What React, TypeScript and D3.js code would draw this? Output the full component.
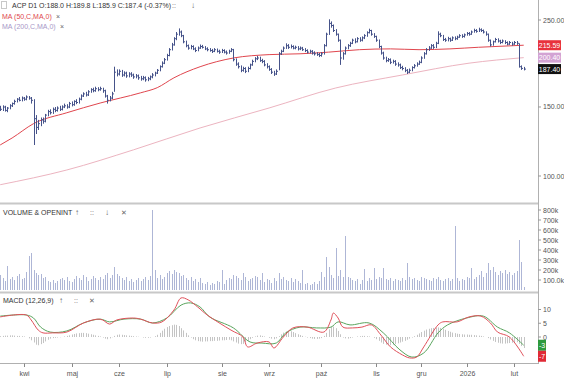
import React from 'react';
import * as d3 from 'd3';

// ---------- DATA ----------
const closes = [
  148,150,147,149,151,153,155,157,156,158,157,159,158,
  156,140,133,136,139,138,
  143,146,145,148,147,149,148,150,151,150,153,152,155,154,157,
  160,162,161,164,166,165,167,166,167,165,160,156,158,
  162,184,
  182,185,181,183,180,182,181,179,180,178,177,178,176,177,179,181,183,
  186,190,194,198,203,210,216,224,230,233,
  228,220,215,212,214,211,209,212,214,213,211,210,209,208,210,208,207,209,207,206,208,210,
  198,193,190,186,188,185,188,192,196,199,200,197,196,192,190,187,184,182,185,
  205,208,212,215,213,214,212,213,211,212,210,209,207,208,206,205,204,203,205,
  215,230,245,242,235,230,222,200,
  205,212,215,218,222,220,224,222,225,228,232,235,230,227,222,214,206,200,197,198,195,196,193,192,189,188,186,
  184,186,189,191,193,195,200,205,210,212,215,213,218,
  230,228,223,222,224,222,225,224,226,228,227,229,231,230,233,235,234,236,235,233,230,
  222,216,220,223,221,219,221,219,217,219,217,219,218,
  190,188.1,187.4,
];
const highs = [
  151,151.5,151,150,152.5,154,156.5,158,159,159.5,159,160.5,160,
  159,157,143,139,141,141,
  144,147.5,148,149.5,150,150.5,151,151.5,153,152.5,154.5,155,156,157,158.5,
  161.5,163.5,164,165.5,167.5,168,169,168.5,169,168,166,161,160,
  164,190,
  187,187,186.5,185,184.5,184,184,182.5,182,181.5,180,180,179.5,179,180.5,183,184.5,
  187.5,191.5,196,200,205,212,218.5,226,233,238,
  235,229,221.5,216.5,216,215.5,213,214,216.5,216,214.5,213,212,211,212,211.5,210,211,210.5,209,210,212,
  211,199.5,195,191.5,190,189.5,190,193.5,198,201,202.5,201.5,199,197.5,194,191.5,188.5,185.5,187,
  207,210,214,218,217,216.5,215.5,215,214.5,214,213.5,212,210.5,210,209.5,208,207,206,207,
  217,232,251,248,243.5,237,231,223,
  207,214,217,220,224,224.5,226,226,227,230,234,237.5,236,231.5,228,223,215,207.5,201.5,200,199.5,198,197.5,195,193.5,191,189.5,
  187.5,188,190.5,193,195,197,202,207,212,214.5,217,217,220,
  234,232,229,225,226.5,225.5,227,227,228,230,230,231,233,233,235,237.5,237,239,238,236.5,234,
  231,223,221.5,225,224.5,222.5,223,222,220.5,221,220,221,221,
  218,191.5,189.8,
];
const lows = [
  146.5,146.5,146,145.5,148,150,152,154,155,155,155.5,156,156.5,
  153,120,128,131,134,136,
  137,142,143.5,144,145.5,146,146.5,147,149,148.5,149,150.5,151,152.5,153,
  156,159,159.5,160,163,163.5,164,164.5,165,163,158.5,153,155,
  157,164,
  179.5,180.5,179,179.5,178,178.5,179,177,177.5,176,175,175.5,174,174.5,175.5,177.5,179.5,
  182,185,189,193,197,202,209,215,222,228,
  226,218,213,210,210.5,209.5,207,208,211,211.5,209.5,208,207.5,206,207,206.5,205,206,205.5,204,205,207,
  196,191,188,184,184.5,183,184,187,191,195,197.5,195.5,194,190.5,188,185.5,182,180,181,
  186,203.5,207,211,211,211.5,210.5,210.5,209,209.5,208.5,207,205.5,205.5,204,203,202.5,201,201.5,
  204,214,229,239,233,228,220,192,
  198,204,210.5,213.5,217,218,219,220,220.5,223.5,226.5,231,228,225,220,212,204,198,195,195.5,193,193.5,191,190,187.5,186,184,
  182,183,185,188,190,192,194,199,204,208.5,211,211,212,
  217,226,221,220,220.5,220,221,222,222.5,225,225,225.5,228,228,229,232,232,233,233,231,228,
  220,214,215,219,219,217,218,217,215.5,216,215,216,216,
  189,186.5,185.9,
];
// volume in thousands
const volumes = [
  150,120,90,240,110,130,100,140,160,110,
  120,180,340,370,200,170,150,160,120,130,
  90,80,100,70,90,110,120,100,130,90,
  80,110,140,120,100,150,130,90,110,140,
  120,100,130,110,150,170,120,150,230,160,
  140,120,100,130,90,110,80,100,120,90,
  110,130,100,140,800,200,120,150,110,130,
  170,190,160,200,180,170,140,150,120,100,
  130,90,110,80,120,70,60,80,50,70,
  60,90,80,200,60,100,120,110,150,140,
  120,100,170,130,90,110,120,140,130,100,
  170,80,110,100,70,120,90,170,110,130,
  100,90,120,80,110,90,70,200,60,70,
  50,60,80,60,90,180,130,330,230,150,
  120,420,140,200,130,540,130,120,100,90,
  110,60,100,210,90,120,100,220,110,130,
  120,220,110,100,120,90,110,100,90,120,
  100,270,130,110,120,100,90,130,120,110,
  100,90,120,110,130,100,90,110,120,90,
  110,640,120,90,110,100,130,120,220,110,
  130,150,190,130,170,270,200,230,180,150,
  190,170,200,160,180,150,170,190,500,280,
  30,
];
const histogram = [
  0.3,0.4,0.5,0.5,0.6,0.6,0.5,0.4,0.4,0.3,0.2,
  0.0,-0.5,
  -1.2,-2.0,-2.8,-3.0,-2.6,-2.2,-1.6,-1.0,
  -0.6,-0.4,-0.3,-0.2,-0.1,0.0,0.2,
  0.4,0.6,0.9,1.1,1.3,1.4,1.5,1.5,1.4,1.2,1.0,0.8,0.6,0.4,0.2,
  -0.2,-0.6,-0.8,-0.5,-0.1,
  0.4,0.8,0.9,0.8,0.7,0.6,0.5,0.4,0.3,0.2,0.1,0.0,-0.2,-0.3,-0.3,
  -0.2,0.0,0.3,0.8,1.5,2.3,3.0,3.6,4.0,4.3,4.5,4.4,4.0,3.2,2.4,1.5,
  0.6,-0.2,-0.8,-1.2,-1.5,-1.6,-1.7,-1.6,-1.6,-1.5,-1.5,-1.4,-1.4,-1.3,-1.2,-1.2,-1.1,-1.0,
  -1.2,-1.6,-2.0,-2.4,-2.6,-2.5,-2.0,-1.4,
  -0.8,-0.3,0.2,0.5,0.6,0.4,0.2,0.0,
  -0.3,-0.6,-0.8,-0.5,
  0.3,1.0,1.6,2.0,2.2,2.1,1.8,1.4,1.0,0.7,0.4,0.1,
  -0.2,-0.4,-0.6,-0.7,-0.7,-0.6,-0.4,
  0.4,1.5,2.8,3.6,3.8,3.2,2.2,1.0,-0.2,
  -0.5,-0.6,-0.4,-0.2,0.0,0.2,0.3,0.4,0.4,0.3,0.2,0.0,-0.3,
  -0.8,-1.4,-2.0,-2.5,-2.8,-3.0,-3.0,-2.8,-2.6,-2.3,-2.0,-1.7,-1.4,-1.0,-0.6,
  -0.2,0.3,0.8,1.3,1.8,2.3,2.7,3.0,3.2,3.3,3.4,
  3.5,3.3,3.0,2.6,2.2,1.9,1.6,1.4,1.2,1.1,1.0,0.9,0.9,0.8,0.8,0.7,0.6,0.5,0.4,0.2,0.0,
  -0.4,-0.9,-1.4,-1.8,-2.1,-2.3,-2.4,-2.4,-2.3,-2.2,-2.1,-2.0,-1.9,-2.5,-3.3,-4.0,
];
// moving averages read at sample bars: [bar index, value]
const ma50Pts: [number, number][] = [
  [0,120],[5,125],[14,136],[28,145],[42,153.5],[59,163],[66,168],[73,178],[84,190],
  [98,200],[113,204],[126,205],[138,207],[151,210],[164,211],[176,210],[189,211],[201,213],[220,215.59],
];
const ma200Pts: [number, number][] = [
  [0,95],[28,103.6],[56,116.6],[84,132.6],[113,149.1],[141,167.7],[169,181],[197,194],[220,200.4],
];
const macdPts: [number, number][] = [
  [0,7.3],[11,8.0],[13,6.2],[16,2.5],[18,1.5],[22,1.5],[28,1.8],[35,5.1],[41,6.5],[43,6.2],
  [46,4.7],[49,6.2],[56,6.9],[59,6.5],[64,5.1],[68,5.5],[73,9.8],[76,14.2],[79,13.5],[83,10.9],
  [87,8.0],[97,2.5],[102,0],[104,-3.6],[108,-2.2],[113,-1.8],[115,-4.0],[119,0],[123,3.3],
  [129,3.6],[136,1.8],[139,6.2],[140,8.7],[142,6.9],[144,3.6],[148,3.3],[152,3.6],[156,4.4],
  [160,0.7],[164,-3.6],[169,-6.5],[172,-7.6],[175,-7.3],[178,-3.6],[184,4.4],[186,5.5],
  [192,5.5],[197,7.3],[202,7.6],[206,5.1],[209,1.8],[214,0],[220,-7],
];
const signalPts: [number, number][] = [
  [0,7.6],[11,8.0],[14,6.9],[17,3.6],[21,1.8],[28,2.2],[35,5.1],[42,6.5],[46,5.5],[52,6.5],
  [59,6.5],[64,5.1],[70,6.9],[76,11.6],[80,12.4],[84,10.9],[88,7.3],[98,3.3],[105,-1.8],
  [110,-2.2],[116,-2.2],[120,1.5],[126,3.6],[133,3.3],[139,3.6],[142,5.5],[147,4.4],[155,5.1],
  [161,1.5],[168,-4.7],[173,-7.3],[178,-5.8],[184,1.5],[188,4.4],[196,6.9],[203,7.6],[209,3.6],
  [214,1.5],[220,-3],
];
const monthIdx = [10,30,50,70,93,113,135,158,177,196,216];
const monthLabels = ['kwi','maj','cze','lip','sie','wrz','paź','lis','gru','2026','lut'];
const priceTicks = [250,150,100];
const volumeTicks = [100,200,300,400,500,600,700,800];
const macdTicks = [10,5,0];

const FONT = '"Liberation Sans", Arial, sans-serif';

export default function App() {
  const x = d3.scaleLinear().domain([0, 226]).range([0.2, 538]);
  const yP = d3.scaleLog().domain([100, 250]).range([176, 20]);
  const yV = d3.scaleLinear().domain([0, 800]).range([290, 210]);
  const yM = d3.scaleLinear().domain([-10, 10]).range([364.5, 309.5]);

  const n = Math.min(closes.length, highs.length, lows.length);
  const px = (i: number) => Math.round(x(i)) + 0.5;

  let barPath = '';
  for (let i = 0; i < n; i++) {
    const xi = px(i);
    barPath += `M${xi},${yP(highs[i]).toFixed(1)}V${yP(lows[i]).toFixed(1)}`;
    barPath += `M${xi},${yP(closes[i]).toFixed(1)}H${xi + 1.5}`;
  }

  const maLine = d3.line<[number, number]>().x(d => x(d[0])).y(d => yP(d[1])).curve(d3.curveMonotoneX);
  const mLine = d3.line<[number, number]>().x(d => x(d[0])).y(d => yM(d[1])).curve(d3.curveCatmullRom);

  const lastMa50 = ma50Pts[ma50Pts.length - 1][1];
  const lastMa200 = ma200Pts[ma200Pts.length - 1][1];
  const lastClose = closes[closes.length - 1];
  const lastMacd = macdPts[macdPts.length - 1][1];
  const lastSig = signalPts[signalPts.length - 1][1];

  const axisX = 538;
  const txt = { fontFamily: FONT, fontSize: 7, fill: '#555' } as const;

  const priceBoxes = [
    { v: lastMa50, c: '#e8323c' },
    { v: lastMa200, c: '#d3a3d3' },
    { v: lastClose, c: '#111111' },
  ];
  const macdBoxes = [
    { v: lastSig, c: '#2e9a3e' },
    { v: lastMacd, c: '#e02a36' },
  ];

  return (
    <svg width={564} height={380} style={{ position: 'absolute', left: 0, top: 0, background: '#fff' }}>
      <defs>
        <clipPath id="cpPrice"><rect x={0} y={0} width={axisX} height={202} /></clipPath>
        <clipPath id="cpMacd"><rect x={0} y={294} width={axisX} height={69} /></clipPath>
      </defs>
      <rect x={0} y={0} width={564} height={380} fill="#fff" />

      {/* panel separators and axis */}
      <line x1={0} x2={axisX} y1={203.5} y2={203.5} stroke="#c8c8c8" strokeWidth={2} />
      <line x1={0} x2={axisX} y1={292.5} y2={292.5} stroke="#c8c8c8" strokeWidth={2} />
      <line x1={0} x2={axisX} y1={363.5} y2={363.5} stroke="#b0b0b0" strokeWidth={1} />
      <line x1={axisX + 0.5} x2={axisX + 0.5} y1={0} y2={364} stroke="#b0b0b0" strokeWidth={1} />

      {/* price panel */}
      <g clipPath="url(#cpPrice)">
        <path d={maLine(ma200Pts) || ''} fill="none" stroke="#ecb4c0" strokeWidth={1} />
        <path d={maLine(ma50Pts) || ''} fill="none" stroke="#e0464e" strokeWidth={1} />
        <path d={barPath} fill="none" stroke="#46538a" strokeWidth={1} />
      </g>

      {/* volume */}
      <g>
        {volumes.map((v, i) => (
          <line key={i} x1={px(i)} x2={px(i)} y1={yV(0)} y2={yV(v)} stroke="#aeb6d6" strokeWidth={1} />
        ))}
      </g>

      {/* MACD */}
      <g clipPath="url(#cpMacd)">
        {histogram.map((h, i) => (
          <line key={i} x1={px(i)} x2={px(i)} y1={yM(0)} y2={yM(h)} stroke="#c4c4c4" strokeWidth={1} />
        ))}
        <path d={mLine(signalPts) || ''} fill="none" stroke="#5aa55e" strokeWidth={1} />
        <path d={mLine(macdPts) || ''} fill="none" stroke="#e0505a" strokeWidth={1} />
      </g>

      {/* right axis: price */}
      {priceTicks.map(t => (
        <g key={t}>
          <line x1={axisX} x2={axisX + 3} y1={yP(t)} y2={yP(t)} stroke="#999" />
          <text x={axisX + 5} y={yP(t) + 2.5} {...txt}>{t.toFixed(2)}</text>
        </g>
      ))}
      {priceBoxes.map((b, k) => (
        <g key={k}>
          <rect x={axisX} y={yP(b.v) - 5} width={23} height={10} fill={b.c} />
          <text x={axisX + 11.5} y={yP(b.v) + 2.5} textAnchor="middle" fontFamily={FONT} fontSize={7} fill="#fff">
            {b.v.toFixed(2)}
          </text>
        </g>
      ))}

      {/* right axis: volume */}
      {volumeTicks.map(t => (
        <g key={t}>
          <line x1={axisX} x2={axisX + 3} y1={yV(t)} y2={yV(t)} stroke="#999" />
          <text x={axisX + 5} y={yV(t) + 2.5} {...txt}>{t === 100 ? '100.0k' : `${t}k`}</text>
        </g>
      ))}

      {/* right axis: macd */}
      {macdTicks.map(t => (
        <g key={t}>
          <line x1={axisX} x2={axisX + 3} y1={yM(t)} y2={yM(t)} stroke="#999" />
          <text x={axisX + 5} y={yM(t) + 2.5} {...txt}>{t}</text>
        </g>
      ))}
      {macdBoxes.map((b, k) => (
        <g key={k}>
          <rect x={axisX} y={yM(b.v) - 5.5} width={8} height={11} fill={b.c} />
          <text x={axisX + 4} y={yM(b.v) + 2.5} textAnchor="middle" fontFamily={FONT} fontSize={7} fill="#fff">
            {Math.round(b.v)}
          </text>
        </g>
      ))}

      {/* x axis */}
      {monthIdx.map((m, k) => (
        <g key={k}>
          <line x1={px(m)} x2={px(m)} y1={363.5} y2={367} stroke="#888" />
          <text x={px(m)} y={376} textAnchor="middle" {...txt}>{monthLabels[k]}</text>
        </g>
      ))}

      {/* header & legends */}
      <rect x={1.5} y={1.5} width={5} height={7} fill="none" stroke="#c8c8c8" />
      <text x={12} y={8} fontFamily={FONT} fontSize={7} fill="#333">
        ACP D1 O:188.0 H:189.8 L:185.9 C:187.4 (-0.37%)
      </text>
      <text x={172} y={8} fontFamily={FONT} fontSize={7} fill="#666">::</text>
      <text x={191} y={8} fontFamily={FONT} fontSize={8} fill="#666">↓</text>
      <text x={2} y={18.5} fontFamily={FONT} fontSize={7} fill="#e0464e">MA (50,C,MA,0)</text>
      <text x={56} y={18.5} fontFamily={FONT} fontSize={7} fill="#666">×</text>
      <text x={2} y={29} fontFamily={FONT} fontSize={7} fill="#a898c8">MA (200,C,MA,0)</text>
      <text x={60} y={29} fontFamily={FONT} fontSize={7} fill="#666">×</text>

      <text x={3} y={214.5} fontFamily={FONT} fontSize={7} fill="#333">VOLUME &amp; OPENINT</text>
      <text x={75} y={214.5} fontFamily={FONT} fontSize={8} fill="#666">↑</text>
      <text x={90} y={214.5} fontFamily={FONT} fontSize={7} fill="#666">::</text>
      <text x={105} y={214.5} fontFamily={FONT} fontSize={8} fill="#666">↓</text>
      <text x={121} y={214.5} fontFamily={FONT} fontSize={7} fill="#666">✕</text>

      <text x={3} y={302.5} fontFamily={FONT} fontSize={7} fill="#333">MACD (12,26,9)</text>
      <text x={59} y={302.5} fontFamily={FONT} fontSize={8} fill="#666">↑</text>
      <text x={74} y={302.5} fontFamily={FONT} fontSize={7} fill="#666">::</text>
      <text x={89} y={302.5} fontFamily={FONT} fontSize={7} fill="#666">✕</text>
    </svg>
  );
}
